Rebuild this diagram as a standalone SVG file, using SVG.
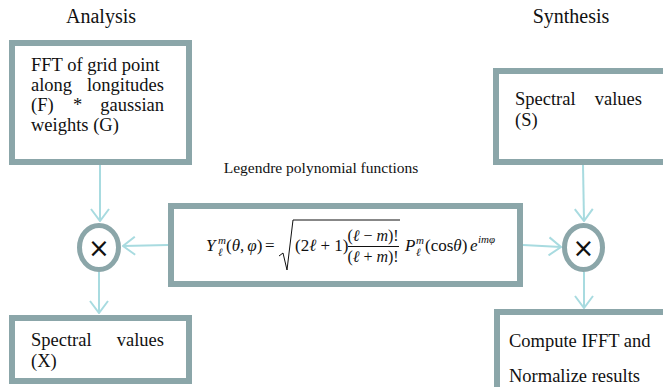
<svg xmlns="http://www.w3.org/2000/svg" width="663" height="387" viewBox="0 0 663 387">
<defs>
<style>
.box{fill:#ffffff;stroke:#8ba6a9;stroke-width:6}
.circ{fill:#ffffff;stroke:#8ba6a9;stroke-width:5}
.t{font-family:"Liberation Serif","Times New Roman",serif;font-size:18.5px;fill:#111111}
.title{font-family:"Liberation Serif","Times New Roman",serif;font-size:20px;fill:#111111;text-anchor:middle}
.lbl{font-family:"Liberation Serif","Times New Roman",serif;font-size:15.5px;fill:#111111;text-anchor:middle}
.m{font-family:"Liberation Serif","Times New Roman",serif;font-size:17px;fill:#111111}
.f{font-size:16px}
.mi{font-style:italic}
.sm{font-size:11px}
.x{font-family:"DejaVu Sans",sans-serif;font-size:26px;fill:#111111;text-anchor:middle}
.conn{stroke:#a8dbe0;stroke-width:2;fill:none}
</style>
<marker id="arr" viewBox="0 0 14 20" refX="13" refY="10" markerWidth="14" markerHeight="20" markerUnits="userSpaceOnUse" orient="auto">
<path d="M1,1 L13,10 L1,19" fill="none" stroke="#a8dbe0" stroke-width="2"/>
</marker>
</defs>
<rect x="0" y="0" width="663" height="387" fill="#ffffff"/>

<text class="title" x="101" y="23">Analysis</text>
<text class="title" x="571" y="23">Synthesis</text>
<text class="lbl" x="321" y="173">Legendre polynomial functions</text>

<g id="connectors">
<line class="conn" x1="100" y1="165" x2="100" y2="221" marker-end="url(#arr)"/>
<line class="conn" x1="168" y1="245" x2="123" y2="246" marker-end="url(#arr)"/>
<line class="conn" x1="99" y1="272" x2="99" y2="313" marker-end="url(#arr)"/>
<line class="conn" x1="583" y1="165" x2="584" y2="221" marker-end="url(#arr)"/>
<line class="conn" x1="523" y1="245" x2="561" y2="247" marker-end="url(#arr)"/>
<line class="conn" x1="584" y1="272" x2="584" y2="308" marker-end="url(#arr)"/>
</g>

<g id="fft">
<rect class="box" x="12" y="43" width="177" height="119"/>
<text class="t" x="31" y="71">FFT of grid point</text>
<text class="t" y="91"><tspan x="31">along</tspan><tspan x="164" text-anchor="end">longitudes</tspan></text>
<text class="t" y="111"><tspan x="31">(F)</tspan><tspan x="73">*</tspan><tspan x="164" text-anchor="end">gaussian</tspan></text>
<text class="t" x="31" y="131">weights (G)</text>
</g>

<g id="spectral-x">
<rect class="box" x="12" y="318" width="177" height="63"/>
<text class="t" y="346"><tspan x="31">Spectral</tspan><tspan x="164" text-anchor="end">values</tspan></text>
<text class="t" x="31" y="367">(X)</text>
</g>

<g id="spectral-s">
<rect class="box" x="496" y="71" width="200" height="91"/>
<text class="t" y="105"><tspan x="515">Spectral</tspan><tspan x="642" text-anchor="end">values</tspan></text>
<text class="t" x="515" y="126">(S)</text>
</g>

<g id="ifft">
<rect class="box" x="497" y="312" width="200" height="100"/>
<text class="t" x="509" y="347">Compute IFFT and</text>
<text class="t" x="509" y="382">Normalize results</text>
</g>

<g id="mult-left">
<ellipse class="circ" cx="99" cy="247.5" rx="19.5" ry="22"/>
<text class="x" x="99" y="257">×</text>
</g>

<g id="mult-right">
<ellipse class="circ" cx="583.5" cy="247.5" rx="19" ry="22"/>
<text class="x" x="583.5" y="257">×</text>
</g>

<g id="legendre">
<rect class="box" x="171" y="206" width="349" height="78"/>
<text class="m mi" x="206" y="251">Y</text>
<text class="m sm mi" x="218" y="244">m</text>
<text class="m sm mi" x="218" y="256">ℓ</text>
<text class="m" x="226" y="251">(<tspan class="mi">θ</tspan>,<tspan class="mi" dx="3">φ</tspan>)</text>
<text class="m" x="265" y="251">=</text>
<polyline points="279,256 283,253 287,270 293,220 400,220" fill="none" stroke="#111111" stroke-width="1"/>
<text class="m" x="295" y="251">(2<tspan class="mi">ℓ</tspan> + 1)</text>
<text class="m f" x="373" y="241" text-anchor="middle">(<tspan class="mi">ℓ</tspan> − <tspan class="mi">m</tspan>)!</text>
<line x1="348" y1="246.5" x2="399" y2="246.5" stroke="#111111" stroke-width="1"/>
<text class="m f" x="373" y="262" text-anchor="middle">(<tspan class="mi">ℓ</tspan> + <tspan class="mi">m</tspan>)!</text>
<text class="m mi" x="405" y="251">P</text>
<text class="m sm mi" x="416" y="244">m</text>
<text class="m sm mi" x="416" y="256">ℓ</text>
<text class="m" x="425" y="251">(cos<tspan class="mi">θ</tspan>)</text>
<text class="m mi" x="470" y="251">e</text>
<text class="m sm mi" x="478" y="243">imφ</text>
</g>
</svg>
